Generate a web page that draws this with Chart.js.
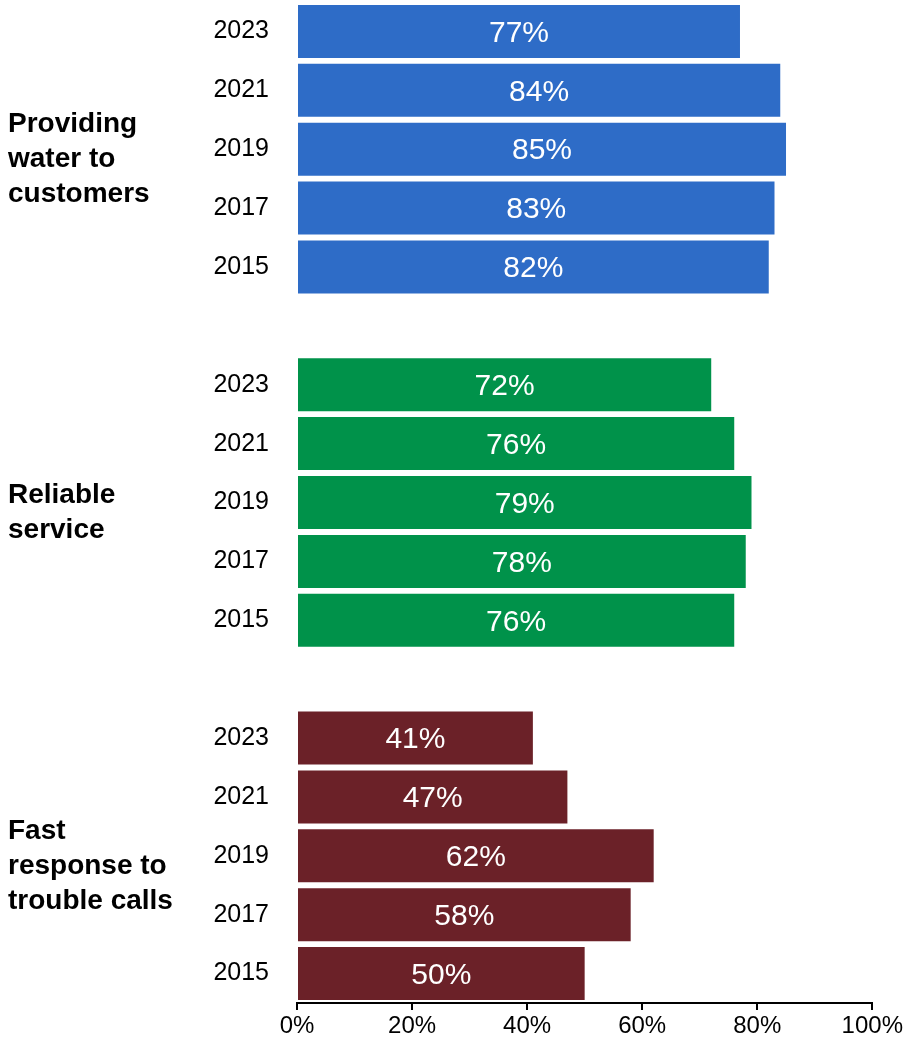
<!DOCTYPE html>
<html>
<head>
<meta charset="utf-8">
<script src="https://cdn.jsdelivr.net/npm/chart.js@4/dist/chart.umd.min.js"></script>
<style>
  body { margin: 0; background: #fff; }
  #wrap { width: 905px; height: 1047px; position: relative; }
</style>
</head>
<body>
<div id="wrap"><canvas id="myChart"></canvas></div>
<script>
// datos
const years = ['2023', '2021', '2019', '2017', '2015'];
const groupNames = [
  ['Providing', 'water to', 'customers'],
  ['Reliable', 'service'],
  ['Fast', 'response to', 'trouble calls']
];
const waterValues = [77, 84, 85, 83, 82];
const reliableValues = [72, 76, 79, 78, 76];
const responseValues = [41, 47, 62, 58, 50];
const xTicks = [0, 20, 40, 60, 80, 100];
const groupColors = ['#2e6cc7', '#00924a', '#6b2128'];

const FONT = '"Liberation Sans", Arial, sans-serif';

// armar filas con una fila vacia entre grupos
const groups = [waterValues, reliableValues, responseValues];
const labels = [];
const values = [];
const colors = [];
groups.forEach((vals, g) => {
  if (g > 0) { labels.push(''); values.push(null); colors.push('#fff'); }
  years.forEach((y, i) => {
    labels.push(y);
    values.push(vals[i]);
    colors.push(groupColors[g]);
  });
});

// etiquetas de valor dentro de cada barra
const valueLabels = {
  id: 'valueLabels',
  afterDatasetsDraw(chart) {
    const ctx = chart.ctx;
    const meta = chart.getDatasetMeta(0);
    ctx.save();
    ctx.font = '30px ' + FONT;
    ctx.fillStyle = '#fff';
    ctx.textAlign = 'center';
    ctx.textBaseline = 'middle';
    meta.data.forEach((bar, i) => {
      const v = chart.data.datasets[0].data[i];
      if (v == null) return;
      ctx.fillText(v + '%', (bar.x + bar.base) / 2, bar.y + 2);
    });
    ctx.restore();
  }
};

// nombres de grupo a la izquierda
const groupLabels = {
  id: 'groupLabels',
  afterDraw(chart) {
    const ctx = chart.ctx;
    const yScale = chart.scales.y;
    ctx.save();
    ctx.font = 'bold 28px ' + FONT;
    ctx.fillStyle = '#000';
    ctx.textAlign = 'left';
    ctx.textBaseline = 'alphabetic';
    groupNames.forEach((lines, g) => {
      const center = yScale.getPixelForValue(g * 6 + 2) + 18;
      const lh = 35;
      lines.forEach((t, k) => {
        ctx.fillText(t, 8, center + (k - (lines.length - 1) / 2) * lh);
      });
    });
    ctx.restore();
  }
};

const ctx = document.getElementById('myChart');
new Chart(ctx, {
  type: 'bar',
  data: {
    labels: labels,
    datasets: [{
      data: values,
      backgroundColor: colors,
      borderWidth: 0,
      barPercentage: 0.9,
      categoryPercentage: 1
    }]
  },
  options: {
    indexAxis: 'y',
    responsive: true,
    maintainAspectRatio: false,
    animation: false,
    layout: { padding: { top: 2, right: 32, left: 0, bottom: 0 } },
    plugins: {
      legend: { display: false },
      tooltip: { enabled: false }
    },
    scales: {
      x: {
        min: 0,
        max: 100,
        afterFit: (s) => { s.height = 44; },
        afterBuildTicks: (s) => { s.ticks = xTicks.map(v => ({ value: v })); },
        grid: { drawOnChartArea: false, drawTicks: true, tickLength: 7, color: '#000', lineWidth: 2 },
        border: { display: true, color: '#000', width: 2 },
        ticks: {
          padding: 2,
          color: '#000',
          font: { size: 24, family: FONT },
          callback: (v) => v + '%'
        }
      },
      y: {
        afterFit: (s) => {
          s.width = 297;
          s.paddingTop = 0;
          s.paddingBottom = 0;
        },
        grid: { display: false, drawTicks: false },
        border: { display: false },
        ticks: {
          padding: 28,
          color: '#000',
          font: { size: 25, family: FONT },
          autoSkip: false
        }
      }
    }
  },
  plugins: [valueLabels, groupLabels]
});
</script>
</body>
</html>
